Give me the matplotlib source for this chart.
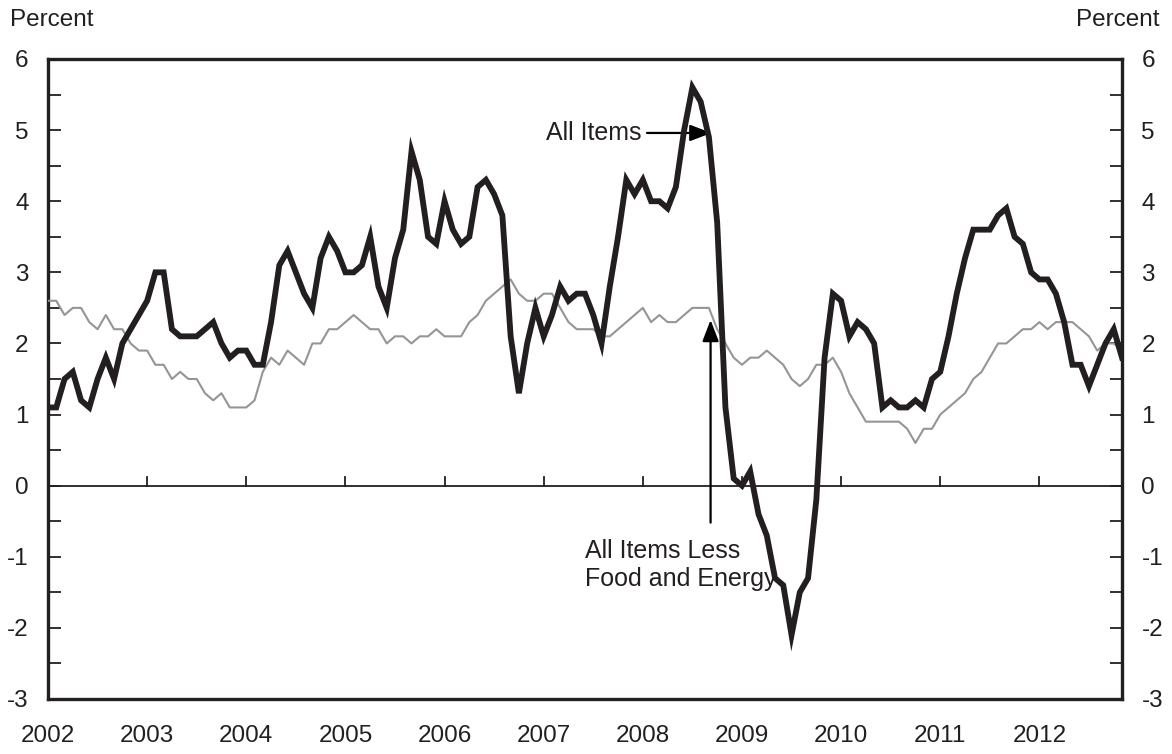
import matplotlib
matplotlib.use("Agg")
import matplotlib.pyplot as plt
import numpy as np

plt.rcParams['font.family'] = ['Liberation Sans', 'DejaVu Sans']

years = ["2002", "2003", "2004", "2005", "2006", "2007", "2008", "2009", "2010", "2011", "2012"]

all_items = [
    1.1, 1.1, 1.5, 1.6, 1.2, 1.1, 1.5, 1.8, 1.5, 2.0, 2.2, 2.4,
    2.6, 3.0, 3.0, 2.2, 2.1, 2.1, 2.1, 2.2, 2.3, 2.0, 1.8, 1.9,
    1.9, 1.7, 1.7, 2.3, 3.1, 3.3, 3.0, 2.7, 2.5, 3.2, 3.5, 3.3,
    3.0, 3.0, 3.1, 3.5, 2.8, 2.5, 3.2, 3.6, 4.7, 4.3, 3.5, 3.4,
    4.0, 3.6, 3.4, 3.5, 4.2, 4.3, 4.1, 3.8, 2.1, 1.3, 2.0, 2.5,
    2.1, 2.4, 2.8, 2.6, 2.7, 2.7, 2.4, 2.0, 2.8, 3.5, 4.3, 4.1,
    4.3, 4.0, 4.0, 3.9, 4.2, 5.0, 5.6, 5.4, 4.9, 3.7, 1.1, 0.1,
    0.0, 0.2, -0.4, -0.7, -1.3, -1.4, -2.1, -1.5, -1.3, -0.2, 1.8, 2.7,
    2.6, 2.1, 2.3, 2.2, 2.0, 1.1, 1.2, 1.1, 1.1, 1.2, 1.1, 1.5,
    1.6, 2.1, 2.7, 3.2, 3.6, 3.6, 3.6, 3.8, 3.9, 3.5, 3.4, 3.0,
    2.9, 2.9, 2.7, 2.3, 1.7, 1.7, 1.4, 1.7, 2.0, 2.2, 1.8,
]

core = [
    2.6, 2.6, 2.4, 2.5, 2.5, 2.3, 2.2, 2.4, 2.2, 2.2, 2.0, 1.9,
    1.9, 1.7, 1.7, 1.5, 1.6, 1.5, 1.5, 1.3, 1.2, 1.3, 1.1, 1.1,
    1.1, 1.2, 1.6, 1.8, 1.7, 1.9, 1.8, 1.7, 2.0, 2.0, 2.2, 2.2,
    2.3, 2.4, 2.3, 2.2, 2.2, 2.0, 2.1, 2.1, 2.0, 2.1, 2.1, 2.2,
    2.1, 2.1, 2.1, 2.3, 2.4, 2.6, 2.7, 2.8, 2.9, 2.7, 2.6, 2.6,
    2.7, 2.7, 2.5, 2.3, 2.2, 2.2, 2.2, 2.1, 2.1, 2.2, 2.3, 2.4,
    2.5, 2.3, 2.4, 2.3, 2.3, 2.4, 2.5, 2.5, 2.5, 2.2, 2.0, 1.8,
    1.7, 1.8, 1.8, 1.9, 1.8, 1.7, 1.5, 1.4, 1.5, 1.7, 1.7, 1.8,
    1.6, 1.3, 1.1, 0.9, 0.9, 0.9, 0.9, 0.9, 0.8, 0.6, 0.8, 0.8,
    1.0, 1.1, 1.2, 1.3, 1.5, 1.6, 1.8, 2.0, 2.0, 2.1, 2.2, 2.2,
    2.3, 2.2, 2.3, 2.3, 2.3, 2.2, 2.1, 1.9, 2.0, 2.0, 1.9,
]

yticks = [-3, -2, -1, 0, 1, 2, 3, 4, 5, 6]

months = np.arange(len(all_items))
dark = "#231f20"

fig = plt.figure(figsize=(11.72, 7.54), dpi=100)
ax = fig.add_axes([48/1172, 1 - 699/754, (1122-48)/1172, (699-59)/754])

ax.plot(months, core, color="#939598", lw=1.5, zorder=3)
ax.plot(months, all_items, color=dark, lw=4.2, zorder=4, solid_joinstyle='miter')
ax.axhline(0, color=dark, lw=1.3, zorder=2)

ax.set_xlim(0, len(all_items) - 1)
ax.set_ylim(-3, 6)

# year ticks on the zero line
for i in range(1, len(years)):
    ax.plot([12*i, 12*i], [0, 0.12], color=dark, lw=1.3, zorder=2)

ax.set_xticks([12*i for i in range(len(years))])
ax.set_xticklabels(years, fontsize=17.5)
ax.tick_params(axis='x', length=0, pad=19, colors=dark)

ax.set_yticks(yticks)
ax.set_yticks(np.arange(-2.5, 6, 1.0), minor=True)
ax.set_yticklabels([str(v) for v in yticks], fontsize=17.5)
ax.tick_params(axis='y', which='both', direction='in', length=9, width=1.3,
               left=True, right=True, labelleft=True, labelright=True,
               pad=14, colors=dark)

for s in ax.spines.values():
    s.set_linewidth(2.4)
    s.set_color(dark)

fig.text(10/1172, 1 - 20/754, "Percent", fontsize=17.5, ha='left', va='center', color=dark)
fig.text(1160/1172, 1 - 20/754, "Percent", fontsize=17.5, ha='right', va='center', color=dark)

arrow_style = "-|>,head_length=1.3,head_width=0.5"
ax.annotate("", xy=(80.3, 4.96), xytext=(72.5, 4.96),
            arrowprops=dict(arrowstyle=arrow_style, color="black", lw=1.6,
                            shrinkA=0, shrinkB=0))
ax.text(71.8, 4.96, "All Items", fontsize=18, ha='right', va='center', color=dark)

ax.annotate("", xy=(80.2, 2.33), xytext=(80.2, -0.52),
            arrowprops=dict(arrowstyle=arrow_style, color="black", lw=1.6,
                            shrinkA=0, shrinkB=0))
ax.text(65.0, -1.12, "All Items Less\nFood and Energy", fontsize=18, ha='left',
        va='center', color=dark, linespacing=1.2)

fig.savefig("out.png", dpi=100)
